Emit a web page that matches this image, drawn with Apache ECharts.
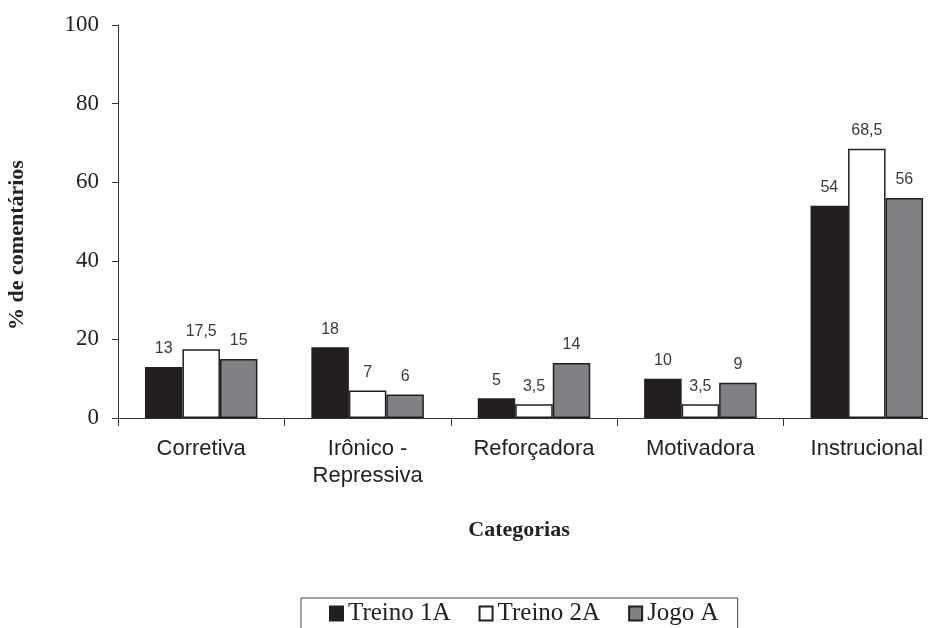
<!DOCTYPE html>
<html>
<head>
<meta charset="utf-8">
<script src="https://cdn.jsdelivr.net/npm/echarts@6/dist/echarts.min.js"></script>
<style>html,body{margin:0;padding:0;background:#fff}#c{width:928px;height:628px}</style>
</head>
<body>
<div id="c"></div>
<script>
var categories = ['Corretiva', 'Irônico -\nRepressiva', 'Reforçadora', 'Motivadora', 'Instrucional'];
var seriesNames = ['Treino 1A', 'Treino 2A', 'Jogo A'];
var treino1A = [13, 18, 5, 10, 54];
var treino2A = [17.5, 7, 3.5, 3.5, 68.5];
var jogoA = [15, 6, 14, 9, 56];
var yTicks = [0, 20, 40, 60, 80, 100];
var colors = ['#231f20', '#ffffff', '#808184'];

var chart = echarts.init(document.getElementById('c'), null, {renderer: 'canvas'});
function mk(name, data, color) {
  return {
    name: name, type: 'bar', data: data,
    barWidth: 37.5, barGap: '0%',
    itemStyle: {color: color, borderColor: '#231f20', borderWidth: 1.5},
    label: {
      show: true, position: 'top', distance: 10,
      fontFamily: 'Liberation Sans', fontSize: 16, color: '#3a3a3a',
      formatter: function (p) { return String(p.value).replace('.', ','); }
    }
  };
}
chart.setOption({
  animation: false,
  backgroundColor: '#fff',
  grid: {left: 118, top: 25, height: 393, width: 832, containLabel: false, outerBoundsMode: 'none'},
  xAxis: {
    type: 'category', data: categories, boundaryGap: true,
    axisLine: {lineStyle: {color: '#333', width: 1}},
    axisTick: {show: true, length: 8, lineStyle: {color: '#333'}},
    axisLabel: {fontFamily: 'Liberation Sans', fontSize: 22, color: '#222', margin: 17, lineHeight: 27, interval: 0}
  },
  yAxis: {
    type: 'value', min: yTicks[0], max: yTicks[yTicks.length - 1], interval: 20,
    splitLine: {show: false},
    axisLine: {show: true, lineStyle: {color: '#333', width: 1}},
    axisTick: {show: true, length: 6, lineStyle: {color: '#333'}},
    axisLabel: {fontFamily: 'Liberation Serif', fontSize: 23, color: '#222', margin: 19}
  },
  legend: {
    data: seriesNames, left: 301, top: 598,
    orient: 'horizontal', icon: 'rect', itemWidth: 13, itemHeight: 14, itemGap: 28,
    padding: [3, 19, 20, 28],
    borderColor: '#444', borderWidth: 1,
    textStyle: {fontFamily: 'Liberation Serif', fontSize: 25, color: '#222'}
  },
  graphic: [
    {type: 'text', x: 519, y: 530,
     style: {text: 'Categorias', font: 'bold 22px "Liberation Serif"', fill: '#222', align: 'center', verticalAlign: 'middle'}},
    {type: 'text', x: 17, y: 245, rotation: Math.PI / 2,
     style: {text: '% de comentários', font: 'bold 22px "Liberation Serif"', fill: '#222', align: 'center', verticalAlign: 'middle'}}
  ],
  series: [mk(seriesNames[0], treino1A, colors[0]), mk(seriesNames[1], treino2A, colors[1]), mk(seriesNames[2], jogoA, colors[2])]
});
</script>
</body>
</html>
